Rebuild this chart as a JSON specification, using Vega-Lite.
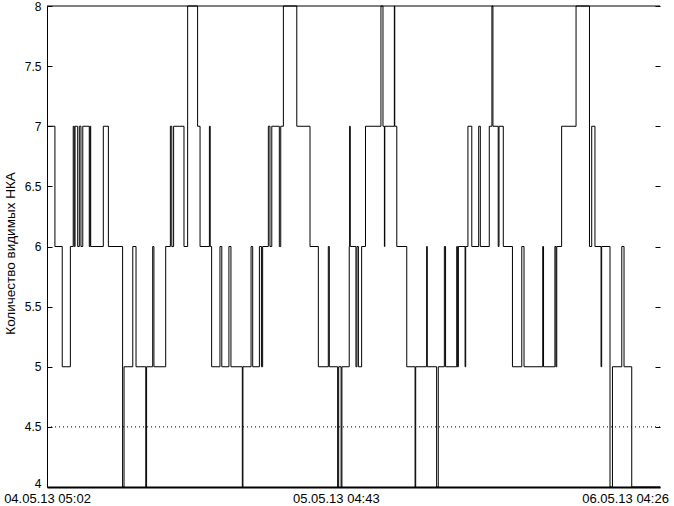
{
  "$schema": "https://vega.github.io/schema/vega-lite/v6.json",
  "width": 613,
  "height": 481,
  "autosize": {"type": "none"},
  "padding": {"left": 47, "top": 6, "right": 14, "bottom": 19},
  "background": "white",
  "config": {
    "view": {"stroke": null},
    "font": "Liberation Sans",
    "axis": {"labelColor": "black", "titleColor": "black", "domainColor": "black", "tickColor": "black", "grid": false, "labelFont": "Liberation Sans", "titleFont": "Liberation Sans"}
  },
  "resolve": {"axis": {"y": "independent"}},
  "layer": [
    {
      "data": {"values": [{"g": 4.5}]},
      "mark": {"type": "rule", "color": "black", "strokeWidth": 1, "strokeDash": [1, 3]},
      "encoding": {
        "y": {
          "field": "g",
          "type": "quantitative",
          "scale": {"domain": [4, 8], "nice": false, "zero": false},
          "axis": {"orient": "right", "title": null, "labels": false, "domain": false, "ticks": true, "tickSize": -5, "values": [4, 4.5, 5, 5.5, 6, 6.5, 7, 7.5, 8]}
        }
      }
    },
    {
      "data": {"values": [{"g": 8}]},
      "mark": {"type": "rule", "color": "black", "strokeWidth": 1},
      "encoding": {
        "y": {"field": "g", "type": "quantitative", "scale": {"domain": [4, 8], "nice": false, "zero": false}, "axis": null}
      }
    },
    {
      "data": {"values": [
        {"t": 0, "n": 7}, {"t": 39, "n": 6}, {"t": 75, "n": 5}, {"t": 115, "n": 6}, {"t": 129, "n": 7},
        {"t": 134, "n": 6}, {"t": 138, "n": 7}, {"t": 151, "n": 6}, {"t": 159, "n": 7}, {"t": 167, "n": 6},
        {"t": 176, "n": 7}, {"t": 208, "n": 6}, {"t": 212, "n": 7}, {"t": 215, "n": 6}, {"t": 277, "n": 7},
        {"t": 302, "n": 6}, {"t": 372, "n": 4}, {"t": 379, "n": 5}, {"t": 422, "n": 6}, {"t": 438, "n": 5},
        {"t": 486, "n": 4}, {"t": 490, "n": 5}, {"t": 520, "n": 6}, {"t": 526, "n": 5}, {"t": 584, "n": 6},
        {"t": 607, "n": 7}, {"t": 614, "n": 6}, {"t": 623, "n": 7}, {"t": 674, "n": 6}, {"t": 692, "n": 8},
        {"t": 741, "n": 7}, {"t": 753, "n": 6}, {"t": 799, "n": 7}, {"t": 803, "n": 6}, {"t": 810, "n": 5},
        {"t": 851, "n": 6}, {"t": 860, "n": 5}, {"t": 895, "n": 6}, {"t": 905, "n": 5}, {"t": 961, "n": 4},
        {"t": 964, "n": 5}, {"t": 1004, "n": 6}, {"t": 1012, "n": 5}, {"t": 1045, "n": 6}, {"t": 1055, "n": 5},
        {"t": 1061, "n": 6}, {"t": 1089, "n": 7}, {"t": 1097, "n": 6}, {"t": 1106, "n": 7}, {"t": 1143, "n": 6},
        {"t": 1150, "n": 7}, {"t": 1163, "n": 8}, {"t": 1229, "n": 7}, {"t": 1294, "n": 6}, {"t": 1335, "n": 5},
        {"t": 1384, "n": 6}, {"t": 1389, "n": 5}, {"t": 1430, "n": 4}, {"t": 1435, "n": 5}, {"t": 1447, "n": 4},
        {"t": 1451, "n": 5}, {"t": 1487, "n": 6}, {"t": 1489, "n": 7}, {"t": 1492, "n": 6}, {"t": 1520, "n": 5},
        {"t": 1525, "n": 6}, {"t": 1532, "n": 5}, {"t": 1548, "n": 6}, {"t": 1567, "n": 7}, {"t": 1643, "n": 8},
        {"t": 1653, "n": 7}, {"t": 1660, "n": 6}, {"t": 1662, "n": 7}, {"t": 1709, "n": 8}, {"t": 1711, "n": 7},
        {"t": 1721, "n": 6}, {"t": 1770, "n": 5}, {"t": 1811, "n": 4}, {"t": 1814, "n": 5}, {"t": 1868, "n": 6},
        {"t": 1871, "n": 5}, {"t": 1917, "n": 4}, {"t": 1925, "n": 5}, {"t": 1955, "n": 6}, {"t": 1961, "n": 5},
        {"t": 2016, "n": 6}, {"t": 2019, "n": 5}, {"t": 2024, "n": 6}, {"t": 2057, "n": 5}, {"t": 2060, "n": 6},
        {"t": 2071, "n": 7}, {"t": 2090, "n": 6}, {"t": 2124, "n": 7}, {"t": 2132, "n": 6}, {"t": 2176, "n": 7},
        {"t": 2189, "n": 8}, {"t": 2194, "n": 7}, {"t": 2220, "n": 6}, {"t": 2224, "n": 7}, {"t": 2245, "n": 6},
        {"t": 2290, "n": 5}, {"t": 2336, "n": 6}, {"t": 2347, "n": 5}, {"t": 2439, "n": 6}, {"t": 2443, "n": 5},
        {"t": 2499, "n": 6}, {"t": 2504, "n": 5}, {"t": 2508, "n": 6}, {"t": 2532, "n": 7}, {"t": 2603, "n": 8},
        {"t": 2669, "n": 6}, {"t": 2680, "n": 7}, {"t": 2696, "n": 6}, {"t": 2726, "n": 5}, {"t": 2729, "n": 6},
        {"t": 2770, "n": 4}, {"t": 2782, "n": 5}, {"t": 2828, "n": 6}, {"t": 2839, "n": 5}, {"t": 2877, "n": 4},
        {"t": 3016, "n": 4}
      ]},
      "mark": {"type": "line", "interpolate": "step-after", "color": "black", "strokeWidth": 1},
      "encoding": {
        "x": {
          "field": "t",
          "type": "quantitative",
          "scale": {"domain": [0, 3016], "nice": false, "zero": false},
          "axis": {
            "orient": "bottom",
            "title": null,
            "values": [0, 1421, 2844],
            "labelExpr": "datum.value == 0 ? '04.05.13 05:02' : datum.value == 1421 ? '05.05.13 04:43' : '06.05.13 04:26'",
            "ticks": false,
            "domainWidth": 2,
            "labelFontSize": 13,
            "labelPadding": 5,
            "labelFlush": false,
            "labelOverlap": false
          }
        },
        "y": {
          "field": "n",
          "type": "quantitative",
          "scale": {"domain": [4, 8], "nice": false, "zero": false},
          "axis": {
            "orient": "left",
            "title": "Количество видимых НКА",
            "titleFontSize": 13.5,
            "titleFontWeight": "normal",
            "titleX": -33,
            "titleY": 247,
            "titleAngle": -90,
            "titleAlign": "center",
            "titleBaseline": "alphabetic",
            "values": [4, 4.5, 5, 5.5, 6, 6.5, 7, 7.5, 8],
            "format": "~g",
            "tickSize": -5,
            "labelPadding": 11,
            "labelFontSize": 12,
            "labelOffset": {"condition": {"test": "datum.value == 4", "value": -4}, "value": 0},
            "domainWidth": 1
          }
        }
      }
    }
  ]
}
